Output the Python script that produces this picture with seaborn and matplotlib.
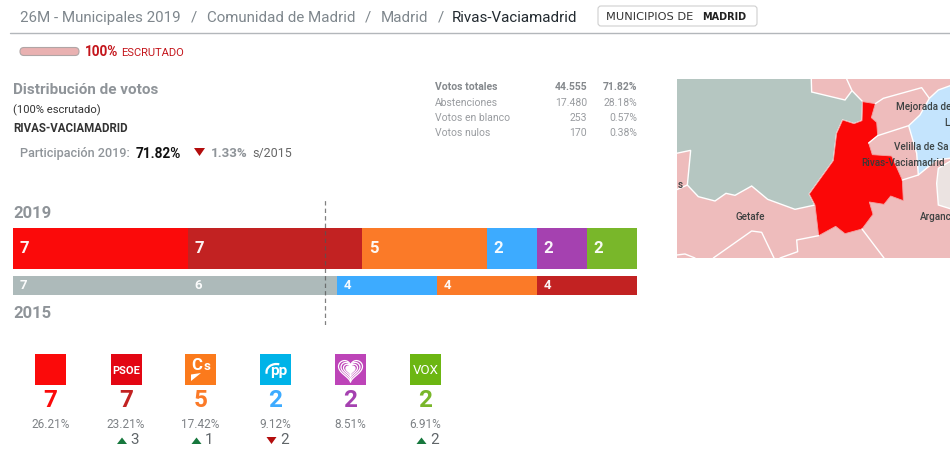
import matplotlib
matplotlib.use("Agg")
import matplotlib.pyplot as plt
from matplotlib.patches import Polygon, Rectangle, FancyBboxPatch, Arc
import numpy as np
import seaborn as sns

sns.set_theme(style="white")
plt.rcParams["font.family"] = ["Roboto", "DejaVu Sans"]

# ---- data ----
parties_2019 = ["Unidas", "PSOE", "Cs", "PP", "Mas Madrid", "VOX"]
seats_2019 = [7, 7, 5, 2, 2, 2]
colors_2019 = ["#fb0a0a", "#c22222", "#fb7a28", "#3dabff", "#a541b0", "#79b72a"]
parties_2015 = ["Somos", "Otros", "PP", "Cs", "PSOE"]
seats_2015 = [7, 6, 4, 4, 4]
colors_2015 = ["#adbaba", "#adbaba", "#3dabff", "#fb7a28", "#c22222"]
logo_colors = ["#fb0a0a", "#e30613", "#fb7a1c", "#00b3e8", "#bd44b8", "#6cb612"]
legend_pct = ["26.21%", "23.21%", "17.42%", "9.12%", "8.51%", "6.91%"]
legend_delta = [None, 3, 1, -2, None, 2]
stats_labels = ["Votos totales", "Abstenciones", "Votos en blanco", "Votos nulos"]
stats_votes = ["44.555", "17.480", "253", "170"]
stats_pct = ["71.82%", "28.18%", "0.57%", "0.38%"]
crumbs = ["26M - Municipales 2019", "/", "Comunidad de Madrid", "/", "Madrid", "/", "Rivas-Vaciamadrid"]
crumb_x = [20, 191, 207, 365, 381, 438, 452]
majority = 12.48
total_seats = 25

# map shapes, in map-local coordinates
map_red = [(578,95),(616,101),(604,143),(620,157),(623,197),(596,219),(607,254),(665,258),(697,330),(700,392),(662,378),(642,403),(598,396),(609,433),(576,477),(525,491),(497,469),(446,497),(435,405),(418,372),(490,272),(500,190),(518,150),(552,161),(576,152)]
map_grey = [(0,0),(423,0),(425,66),(525,90),(546,62),(578,95),(576,152),(552,161),(518,150),(500,190),(490,272),(418,372),(435,405),(375,418),(293,388),(245,348),(195,376),(168,370),(135,393),(85,380),(52,345),(62,241),(0,254)]
map_blue = [(860,40),(805,60),(778,85),(750,135),(716,167),(740,250),(745,315),(800,270),(860,262)]
map_light = [(860,262),(805,295),(800,340),(805,405),(860,422)]
map_lines = [
    [(530,27),(546,62)], [(616,101),(640,85),(755,53),(778,85)],
    [(596,219),(623,197),(716,167)],
    [(697,330),(745,315)], [(0,368),(52,345)],
    [(130,564),(245,483),(275,487),(312,564)], [(20,555),(45,552),(75,564)],
    [(446,497),(380,510),(383,545),(330,564)], [(576,477),(642,564)],
]
map_labels = [("Mejorada de", 677, 110), ("L", 824, 160), ("Velilla de Sa", 672, 231),
              ("Rivas-Vaciamadrid", 575, 279), ("Getafe", 196, 441), ("Arganc", 749, 441),
              ("s", 22, 344)]

W, H = 950, 470
fig = plt.figure(figsize=(9.5, 4.7), dpi=100, facecolor="white")


def axes_px(x0, y0, x1, y1):
    return fig.add_axes([x0 / W, 1 - y1 / H, (x1 - x0) / W, (y1 - y0) / H])


# ---- stacked bars ----
def stacked(ax, year, seats, colors, size):
    cum = np.cumsum(seats)
    for c, col in list(zip(cum, colors))[::-1]:
        sns.barplot(x=[c], y=[year], color=col, saturation=1, width=1, ax=ax, edgecolor="none")
    ax.set_xlim(0, total_seats)
    ax.axis("off")
    starts = np.concatenate([[0], cum[:-1]])
    for s, v in zip(starts, seats):
        ax.annotate(str(v), (s, 0), xytext=(6.5, 0), textcoords="offset pixels", color="white",
                    fontsize=size, fontweight="bold", va="center", ha="left", alpha=0.95)


ax19 = axes_px(13, 228, 637, 269)
stacked(ax19, "2019", seats_2019, colors_2019, 12)
ax15 = axes_px(13, 276, 637, 295)
stacked(ax15, "2015", seats_2015, colors_2015, 9.5)

axm = axes_px(13, 198, 637, 325)
axm.patch.set_alpha(0)
axm.set_xlim(0, total_seats)
axm.axvline(majority, color="#555555", lw=0.9, ls=(0, (3.5, 2.5)), alpha=0.75)
axm.axis("off")

# ---- map ----
mp = axes_px(677, 79, 950, 258)
mp.set_xlim(21, 840)
mp.set_ylim(564, 27)
mp.axis("off")
mp.add_patch(Rectangle((0, 0), 900, 600, fc="#eebcbc", ec="none"))
mp.add_patch(Polygon(map_grey, fc="#b5c6c1", ec="white", lw=1))
mp.add_patch(Polygon(map_blue, fc="#c4e4fd", ec="white", lw=1))
mp.add_patch(Polygon(map_light, fc="#ebe3e1", ec="white", lw=1))
for ln in map_lines:
    xs, ys = zip(*ln)
    mp.plot(xs, ys, color="white", lw=1)
mp.add_patch(Polygon(map_red, fc="#fb0707", ec="#f6a0a0", lw=0.6))
for t, x, y in map_labels:
    mp.text(x, y, t, fontsize=7.1, color="#333a3a", va="center", ha="left", clip_on=True,
            fontweight="medium", alpha=0.95)

# ---- overlay in pixels ----
ov = axes_px(0, 0, W, H)
ov.set_xlim(0, W)
ov.set_ylim(H, 0)
ov.axis("off")
ov.patch.set_alpha(0)
GR = "#8f9499"

for i, (t, x) in enumerate(zip(crumbs, crumb_x)):
    col = "#222a30" if i == 6 else "#7f878d"
    ov.text(x, 18, t, fontsize=10.9, color=col, va="center", ha="left")
ov.plot([10, 950], [33, 33], color="#b3b7bb", lw=1)

ov.add_patch(FancyBboxPatch((598, 6), 159, 20, boxstyle="round,pad=0,rounding_size=3",
                            fc="white", ec="#cfcfcf", lw=0.8))
ov.text(605.5, 16.5, "MUNICIPIOS DE", fontsize=8.2, color="#333", va="center", ha="left",
        family="DejaVu Sans")
ov.text(702, 16.5, "MADRID", fontsize=7, fontweight="bold", color="#222", va="center", ha="left",
        family="DejaVu Sans")

ov.add_patch(FancyBboxPatch((20, 47.5), 59, 8, boxstyle="round,pad=0,rounding_size=4",
                            fc="#e9b1b1", ec="#b0a5a5", lw=0.8))
ov.text(85, 52, "100%", fontsize=9.8, fontweight="bold", color="#c4161c", va="center", ha="left")
ov.text(121, 53, "ESCRUTADO", fontsize=8, color="#c4161c", va="center", ha="left")

ov.text(13, 90, "Distribución de votos", fontsize=11, fontweight="bold", color=GR, va="center")
ov.text(13, 110, "(100% escrutado)", fontsize=8.1, color="#333", va="center")
ov.text(13, 128.5, "RIVAS-VACIAMADRID", fontsize=8.3, fontweight="bold", color="#333", va="center")
ov.text(20, 152, "Participación 2019:", fontsize=9.1, fontweight="medium", color=GR, va="center_baseline")
ov.text(136, 152, "71.82%", fontsize=9.8, fontweight="bold", color="#111", va="center_baseline")
ov.add_patch(Polygon([(194, 148), (205, 148), (199.5, 156)], fc="#b30d0d", ec="none"))
ov.text(211, 152, "1.33%", fontsize=9.6, fontweight="bold", color=GR, va="center_baseline")
ov.text(252, 152, "s/2015", fontsize=9, color="#666", va="center_baseline")

for i, (lab, v, p, y) in enumerate(zip(stats_labels, stats_votes, stats_pct, [87.5, 102.5, 118, 133])):
    w = "bold" if i == 0 else "normal"
    c = "#85898d" if i == 0 else "#999ca0"
    ov.text(435, y, lab, fontsize=7.5, fontweight=w, color=c, va="center")
    ov.text(587, y, v, fontsize=7.5, fontweight=w, color=c, va="center", ha="right")
    ov.text(637, y, p, fontsize=7.5, fontweight=w, color=c, va="center", ha="right")

ov.text(13, 213, "2019", fontsize=12, fontweight="bold", color=GR, va="center")
ov.text(13, 313, "2015", fontsize=12, fontweight="bold", color=GR, va="center")

# ---- party legend ----
centers = [50.5, 126, 200.5, 275.5, 350.5, 425.5]
for cx, col, num, bc, pct, d in zip(centers, logo_colors, seats_2019, colors_2019, legend_pct, legend_delta):
    ov.add_patch(Rectangle((cx - 15.5, 354), 31, 31, fc=col, ec="none"))
    ov.text(cx, 400.5, str(num), fontsize=17.5, fontweight="bold", color=bc, ha="center", va="center")
    ov.text(cx, 424, pct, fontsize=8.5, color="#7d8185", ha="center", va="center")
    if d is not None:
        if d > 0:
            tri = [(cx - 9, 444), (cx + 1, 444), (cx - 4, 437.5)]
            tc = "#17783d"
        else:
            tri = [(cx - 9, 437), (cx + 1, 437), (cx - 4, 444)]
            tc = "#b30d0d"
        ov.add_patch(Polygon(tri, fc=tc, ec="none"))
        ov.text(cx + 4.5, 440.5, str(abs(d)), fontsize=11, color="#60666a", ha="left", va="center")

# logos
ov.text(centers[1], 371, "PSOE", fontsize=8, fontweight="bold", color="white", ha="center", va="center")
ov.text(197, 365, "C", fontsize=12, fontweight="bold", color="white", ha="center", va="center")
ov.text(207, 367, "s", fontsize=9.5, fontweight="bold", color="white", ha="center", va="center")
ov.add_patch(Polygon([(191, 374.5), (201, 373), (191, 381)], fc="white", ec="none"))
ov.text(279, 371, "pp", fontsize=11, fontweight="bold", color="white", ha="center", va="center")
ov.add_patch(Arc((276.5, 372), 20, 16, theta1=170, theta2=290, color="white", lw=1.6))
ov.text(centers[5], 370, "VOX", fontsize=9.5, color="white", ha="center", va="center")
th = np.linspace(0, 2 * np.pi, 80)
hx = np.sin(th) ** 3
hy = -(0.8125 * np.cos(th) - 0.3125 * np.cos(2 * th) - 0.125 * np.cos(3 * th) - 0.0625 * np.cos(4 * th))
for scale in [12, 9.5, 7]:
    ov.plot(centers[4] + scale * hx, 369.5 + scale * hy, color="white", lw=0.9)
ov.fill(centers[4] + 4.5 * hx, 369.5 + 4.5 * hy, color="white")

fig.savefig("out.png", dpi=100, facecolor="white")
